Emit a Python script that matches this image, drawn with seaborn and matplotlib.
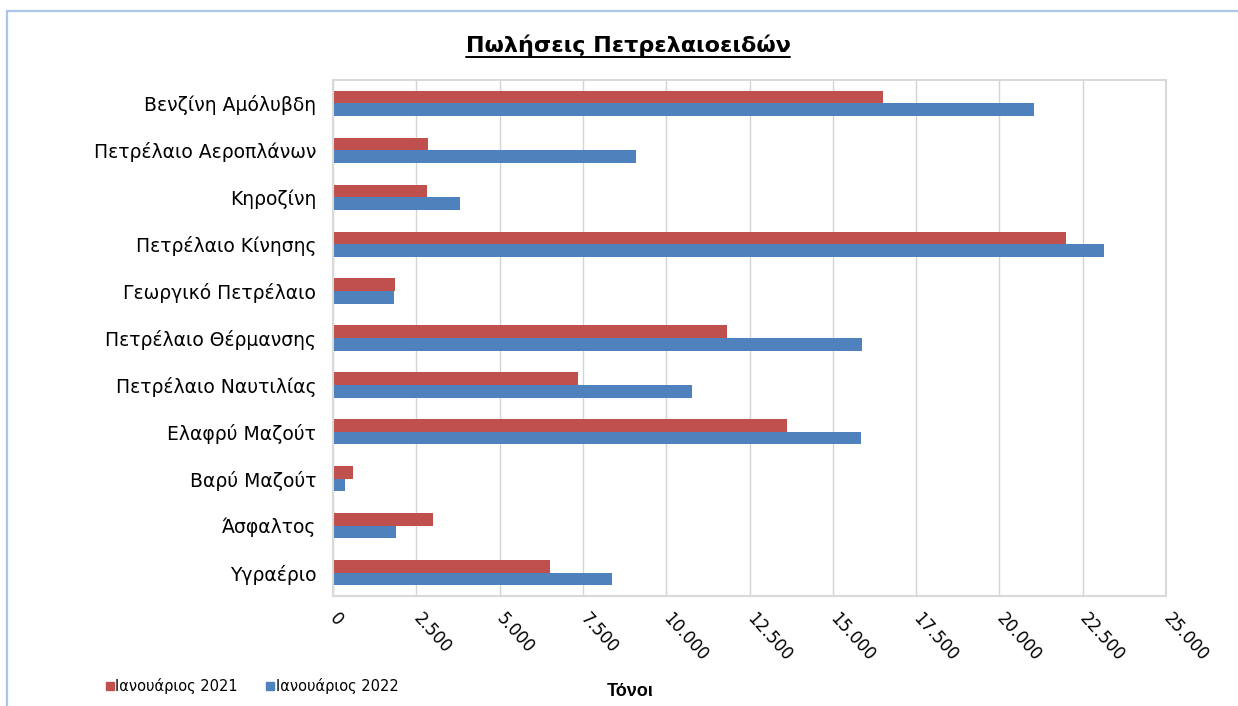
import pandas as pd
import numpy as np
import matplotlib
matplotlib.use("Agg")
import matplotlib.pyplot as plt
import seaborn as sns
from matplotlib.lines import Line2D
from matplotlib.patches import Rectangle
from matplotlib.ticker import FuncFormatter

# ==========================================
# Data (tonnes)
# ==========================================

categories = [
    "Βενζίνη Αμόλυβδη",
    "Πετρέλαιο Αεροπλάνων",
    "Κηροζίνη",
    "Πετρέλαιο Κίνησης",
    "Γεωργικό Πετρέλαιο",
    "Πετρέλαιο Θέρμανσης",
    "Πετρέλαιο Ναυτιλίας",
    "Ελαφρύ Μαζούτ",
    "Βαρύ Μαζούτ",
    "Άσφαλτος",
    "Υγραέριο",
]

jan_2021 = [16510, 2850, 2820, 22010, 1850, 11830, 7350, 13640, 600, 3000, 6510]
jan_2022 = [21050, 9100, 3820, 23150, 1820, 15890, 10770, 15860, 350, 1880, 8380]

series_names = ["Ιανουάριος 2021", "Ιανουάριος 2022"]
x_ticks = list(range(0, 25001, 2500))

df = pd.DataFrame({
    "Category": categories * 2,
    "Tonnes": jan_2021 + jan_2022,
    "Period": [series_names[0]] * len(categories) + [series_names[1]] * len(categories),
})

# ==========================================
# Style
# ==========================================

sns.set_theme(style="white")
plt.rcParams["font.family"] = ["DejaVu Sans"]
plt.rcParams["text.color"] = "black"

red = "#C0504D"
blue = "#4F81BD"

W, H = 1238, 706
fig = plt.figure(figsize=(W / 100, H / 100), dpi=100)
ax = fig.add_axes([333 / W, 1 - 596 / H, 833 / W, 516 / H])

sns.barplot(
    data=df,
    y="Category",
    x="Tonnes",
    hue="Period",
    order=categories,
    hue_order=series_names,
    palette=[red, blue],
    saturation=1,
    width=0.54,
    linewidth=0,
    orient="y",
    legend=False,
    ax=ax,
)

ax.set_xlim(0, 25000)
ax.set_xticks(x_ticks)
ax.xaxis.set_major_formatter(FuncFormatter(lambda v, p: f"{int(v):,}".replace(",", ".")))
ax.xaxis.grid(True, color="#D4D4D4", linewidth=1)
ax.set_axisbelow(True)
for s in ax.spines.values():
    s.set_color("#D9D9D9")
    s.set_linewidth(1.5)

ax.set_xlabel("")
ax.set_ylabel("")
ax.tick_params(axis="both", length=0)
ax.tick_params(axis="y", labelsize=13.5, pad=12, labelcolor="black")
ax.tick_params(axis="x", labelsize=12, pad=14, labelcolor="black")
for lbl in ax.get_xticklabels():
    lbl.set_rotation(-48)
    lbl.set_ha("left")
    lbl.set_va("center")
    lbl.set_rotation_mode("anchor")

# Title with underline
title = fig.text(628 / W, 1 - 45 / H, "Πωλήσεις Πετρελαιοειδών",
                 ha="center", va="center", fontsize=16, fontweight="bold",
                 color="black")
fig.canvas.draw()
bb = title.get_window_extent().transformed(fig.transFigure.inverted())
fig.add_artist(Line2D([bb.x0, bb.x1], [bb.y0 - 0.002, bb.y0 - 0.002],
                      transform=fig.transFigure, color="black", linewidth=1.4))

# Axis label
fig.text(630 / W, 1 - 692 / H, "Τόνοι", ha="center", va="center",
         fontsize=13, fontweight="bold", color="black",
         family=["Liberation Sans", "DejaVu Sans"])

# Legend
handles = [
    Line2D([], [], marker="s", linestyle="", color=red, markersize=6),
    Line2D([], [], marker="s", linestyle="", color=blue, markersize=6),
]
fig.legend(handles, series_names, loc="center left",
           bbox_to_anchor=(92 / W, 1 - 686 / H), ncol=2, frameon=False,
           fontsize=10.5, handlelength=0.6, handletextpad=0.1, columnspacing=1.9)

# Outer border
fig.add_artist(Rectangle((7 / W, -0.1), 1.0, (H - 11) / H + 0.1, fill=False,
                         edgecolor="#A9C6EA", linewidth=1.6,
                         transform=fig.transFigure))

fig.savefig("out.png", dpi=100)
